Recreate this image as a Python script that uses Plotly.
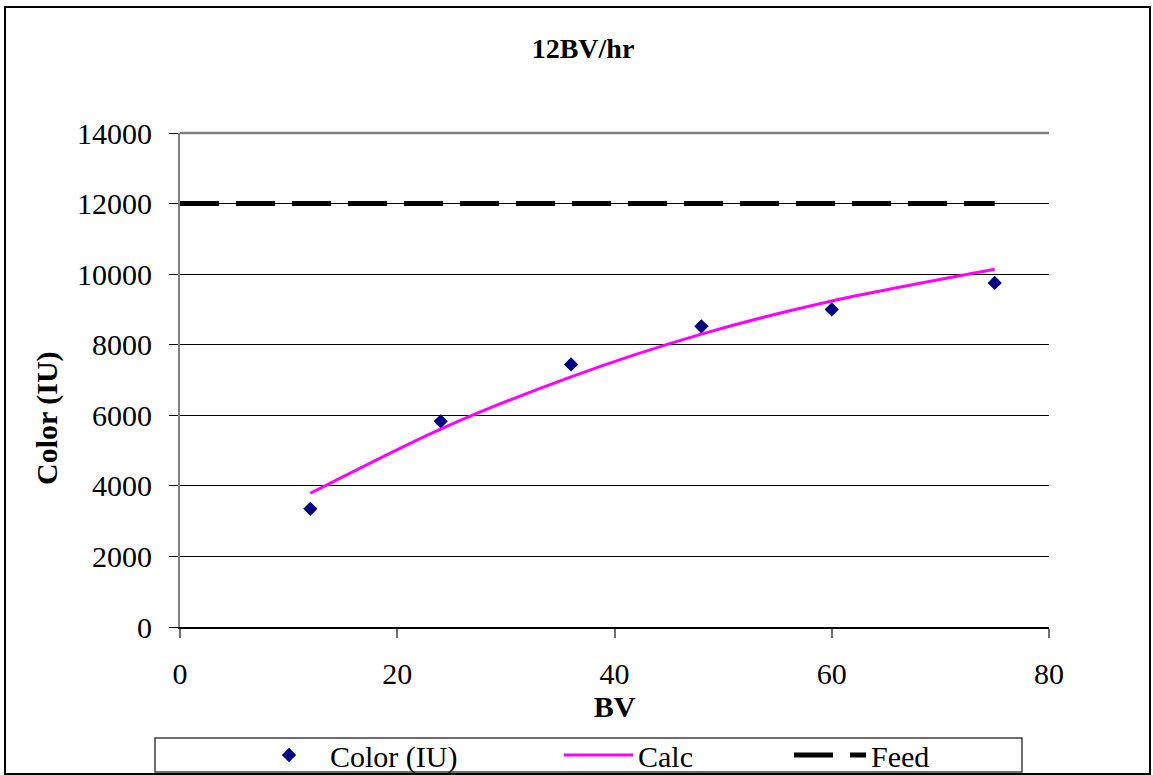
import plotly.graph_objects as go

# Bed volumes sampled and measured colour
bv = [12, 24, 36, 48, 60, 75]
color_iu = [3350, 5830, 7440, 8520, 9000, 9750]
# Model curve at the same bed volumes
calc = [3790, 5610, 7090, 8300, 9240, 10140]
# Feed colour level
feed_bv = [0, 12, 24, 36, 48, 60, 75]
feed = [12000, 12000, 12000, 12000, 12000, 12000, 12000]

x_ticks = [0, 20, 40, 60, 80]
y_ticks = [0, 2000, 4000, 6000, 8000, 10000, 12000, 14000]

FONT = "Liberation Serif, Times New Roman, serif"

fig = go.Figure()
fig.add_trace(go.Scatter(
    x=bv, y=color_iu, mode="markers", name="Color (IU)",
    marker=dict(symbol="diamond", size=11, color="#000080"),
    legend="legend",
))
fig.add_trace(go.Scatter(
    x=bv, y=calc, mode="lines", name="Calc",
    line=dict(color="#FF00FF", width=3, shape="spline", smoothing=0.8),
    legend="legend2",
))
fig.add_trace(go.Scatter(
    x=feed_bv, y=feed, mode="lines", name="Feed",
    line=dict(color="#000000", width=5, dash="39px,17px"),
    legend="legend3",
))

L, R, T, B = 180, 104, 133, 148
W, H = 1153, 775
pw, ph = W - L - R, H - T - B


def px(xp):
    return (xp - L) / pw


def py(yp):
    return (H - B - yp) / ph


leg_common = dict(
    orientation="h", yanchor="middle", xanchor="left",
    bgcolor="rgba(0,0,0,0)", borderwidth=0, visible=True,
    font=dict(family=FONT, size=30, color="#000000"),
)

fig.update_layout(
    width=W, height=H,
    margin=dict(l=L, r=R, t=T, b=B, autoexpand=False),
    paper_bgcolor="white", plot_bgcolor="white",
    showlegend=True,
    title=dict(text="<b>12BV/hr</b>", x=583 / W, xanchor="center",
               y=1 - 48 / H, yanchor="middle",
               font=dict(family=FONT, size=28, color="#000000")),
    font=dict(family=FONT, color="#000000"),
    legend=dict(x=px(248), y=py(755), itemwidth=72, **leg_common),
    legend2=dict(x=px(559), y=py(755), itemwidth=69, **leg_common),
    legend3=dict(x=px(789), y=py(755), itemwidth=72, **leg_common),
    xaxis=dict(
        range=[0, 80], tickvals=x_ticks, ticktext=[str(v) for v in x_ticks],
        showgrid=False, zeroline=False,
        showline=True, linecolor="#000000", linewidth=1.5,
        ticks="outside", ticklen=9, tickwidth=1.5, tickcolor="#707070",
        tickfont=dict(family=FONT, size=30, color="#000000"),
        ticklabelstandoff=10,
        title=dict(text="<b>BV</b>", standoff=5,
                   font=dict(family=FONT, size=30, color="#000000")),
    ),
    yaxis=dict(
        range=[0, 14000], tickvals=y_ticks, ticktext=[str(v) for v in y_ticks],
        showgrid=True, gridcolor="#000000", gridwidth=1,
        zeroline=False,
        showline=True, linecolor="#808080", linewidth=2,
        ticks="outside", ticklen=9, tickwidth=1, tickcolor="#000000",
        tickfont=dict(family=FONT, size=30, color="#000000"),
        ticklabelstandoff=11,
    ),
    annotations=[
        # y-axis title, set a little below the plot's middle
        dict(text="<b>Color (IU)</b>", textangle=-90, showarrow=False,
             xref="paper", yref="paper", x=px(47), y=py(418),
             xanchor="center", yanchor="middle",
             font=dict(family=FONT, size=30, color="#000000")),
    ],
    shapes=[
        # top edge of the plot area
        dict(type="line", xref="paper", yref="paper", x0=0, x1=1, y0=1, y1=1,
             line=dict(color="#808080", width=2.5)),
        # legend frame
        dict(type="rect", xref="paper", yref="paper",
             x0=px(155), x1=px(1022), y0=py(772), y1=py(738),
             line=dict(color="#404040", width=1.5), layer="below"),
        # chart frame
        dict(type="rect", xref="paper", yref="paper",
             x0=px(5), x1=px(1150), y0=py(774), y1=py(7),
             line=dict(color="#000000", width=2)),
    ],
)

fig.write_html("out.html")
